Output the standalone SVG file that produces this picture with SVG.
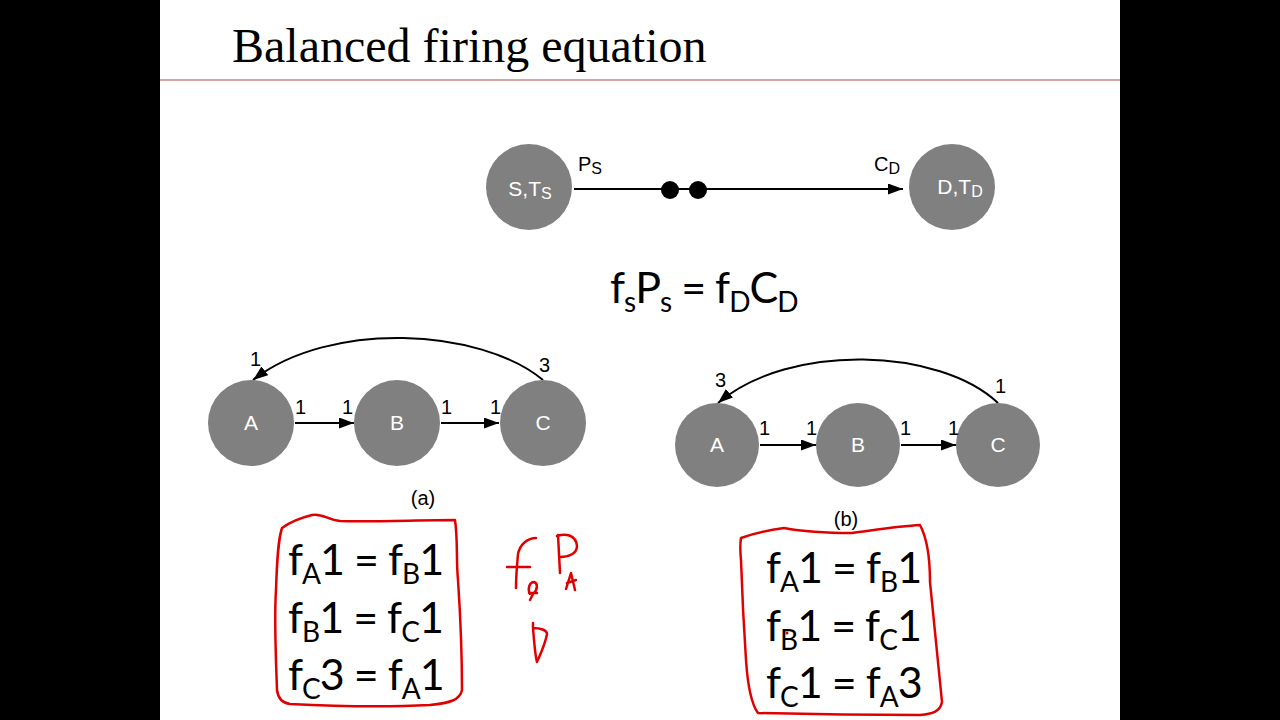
<svg xmlns="http://www.w3.org/2000/svg" width="1280" height="720" viewBox="0 0 1280 720">
<defs>
<style>
.node{fill:#808080;}
.nl{font-family:"Liberation Sans",Arial,sans-serif;font-size:21px;fill:#ffffff;text-anchor:middle;}
.lbl{font-family:"Liberation Sans",Arial,sans-serif;font-size:20px;fill:#000000;}
.cap{font-family:"Liberation Sans",Arial,sans-serif;font-size:20px;fill:#000000;text-anchor:middle;}
.eq{font-family:Lato,"Open Sans",sans-serif;font-size:43px;fill:#000000;letter-spacing:-1px;}
.edge{stroke:#000000;stroke-width:2;fill:none;marker-end:url(#ah);}
.ink{stroke:#e00000;stroke-width:2.5;fill:none;stroke-linecap:round;stroke-linejoin:round;}
</style>
<marker id="ah" viewBox="0 0 15 11" refX="15" refY="5.5" markerWidth="15" markerHeight="11" markerUnits="userSpaceOnUse" orient="auto">
<path d="M0,0 L15,5.5 L0,11 z" fill="#000000"/>
</marker>
</defs>
<rect x="0" y="0" width="1280" height="720" fill="#000000"/>
<rect x="160" y="0" width="960" height="720" fill="#ffffff"/>
<text x="232" y="62" font-family="'Liberation Serif','Times New Roman',serif" font-size="48" fill="#000000">Balanced firing equation</text>
<line x1="160" y1="80" x2="1120" y2="80" stroke="#c88a8a" stroke-width="1.5"/>

<g id="connectors">
<line class="edge" x1="574" y1="189" x2="903" y2="189"/>
<line class="edge" x1="295" y1="423" x2="354" y2="423"/>
<line class="edge" x1="441" y1="423" x2="499" y2="423"/>
<path class="edge" d="M543,380 C480,328 330,320 253,380"/>
<line class="edge" x1="760" y1="445" x2="816" y2="445"/>
<line class="edge" x1="901" y1="445" x2="956" y2="445"/>
<path class="edge" d="M998,403 C940,348 790,342 718,403"/>
<circle cx="670" cy="190" r="9" fill="#000000"/>
<circle cx="698" cy="190" r="9" fill="#000000"/>
</g>

<g id="node-S">
<circle class="node" cx="529" cy="187" r="43"/>
<text class="nl" x="530" y="196" font-size="22">S,T<tspan font-size="16" dy="3">S</tspan></text>
</g>
<g id="node-D">
<circle class="node" cx="952" cy="187" r="43"/>
<text class="nl" x="960" y="194" font-size="22">D,T<tspan font-size="16" dy="3">D</tspan></text>
</g>
<text class="lbl" x="578" y="171" font-size="21">P<tspan font-size="16" dy="3">S</tspan></text>
<text class="lbl" x="874" y="171" font-size="21">C<tspan font-size="16" dy="3">D</tspan></text>

<text class="eq" x="610" y="303">f<tspan font-size="28" dy="9">s</tspan><tspan dy="-9">P</tspan><tspan font-size="28" dy="9">s</tspan><tspan dy="-9"> = f</tspan><tspan font-size="28" dy="9">D</tspan><tspan dy="-9">C</tspan><tspan font-size="28" dy="9">D</tspan></text>

<g id="node-a-A"><circle class="node" cx="251" cy="423" r="43"/><text class="nl" x="251" y="430">A</text></g>
<g id="node-a-B"><circle class="node" cx="397" cy="423" r="43"/><text class="nl" x="397" y="430">B</text></g>
<g id="node-a-C"><circle class="node" cx="543" cy="423" r="43"/><text class="nl" x="543" y="430">C</text></g>
<text class="lbl" x="250" y="366">1</text>
<text class="lbl" x="539" y="372">3</text>
<text class="lbl" x="295" y="414">1</text>
<text class="lbl" x="342" y="414">1</text>
<text class="lbl" x="441" y="414">1</text>
<text class="lbl" x="490" y="414">1</text>
<text class="cap" x="423" y="505">(a)</text>

<g id="node-b-A"><circle class="node" cx="717" cy="445" r="42"/><text class="nl" x="717" y="452">A</text></g>
<g id="node-b-B"><circle class="node" cx="858" cy="445" r="42"/><text class="nl" x="858" y="452">B</text></g>
<g id="node-b-C"><circle class="node" cx="998" cy="445" r="42"/><text class="nl" x="998" y="452">C</text></g>
<text class="lbl" x="715" y="387">3</text>
<text class="lbl" x="995" y="393">1</text>
<text class="lbl" x="759" y="435">1</text>
<text class="lbl" x="806" y="435">1</text>
<text class="lbl" x="900" y="435">1</text>
<text class="lbl" x="948" y="435">1</text>
<text class="cap" x="846" y="526">(b)</text>

<g id="equations-a">
<text class="eq" x="288" y="575">f<tspan font-size="28" dy="9">A</tspan><tspan dy="-9">1 = f</tspan><tspan font-size="28" dy="9">B</tspan><tspan dy="-9">1</tspan></text>
<text class="eq" x="288" y="633">f<tspan font-size="28" dy="9">B</tspan><tspan dy="-9">1 = f</tspan><tspan font-size="28" dy="9">C</tspan><tspan dy="-9">1</tspan></text>
<text class="eq" x="288" y="690">f<tspan font-size="28" dy="9">C</tspan><tspan dy="-9">3 = f</tspan><tspan font-size="28" dy="9">A</tspan><tspan dy="-9">1</tspan></text>
</g>
<g id="equations-b">
<text class="eq" x="766" y="583">f<tspan font-size="28" dy="9">A</tspan><tspan dy="-9">1 = f</tspan><tspan font-size="28" dy="9">B</tspan><tspan dy="-9">1</tspan></text>
<text class="eq" x="766" y="641">f<tspan font-size="28" dy="9">B</tspan><tspan dy="-9">1 = f</tspan><tspan font-size="28" dy="9">C</tspan><tspan dy="-9">1</tspan></text>
<text class="eq" x="766" y="698">f<tspan font-size="28" dy="9">C</tspan><tspan dy="-9">1 = f</tspan><tspan font-size="28" dy="9">A</tspan><tspan dy="-9">3</tspan></text>
</g>

<g id="ink">
<path class="ink" d="M282,528 C290,522 300,518 312,515 C322,513 328,520 340,521 C370,522 420,520 455,520 C458,540 456,560 458,580 C460,610 462,650 462,690 C460,700 450,703 430,705 C390,707 330,706 290,704 C282,703 278,698 277,690 C276,660 274,620 276,590 C277,560 278,540 282,528"/>
<path class="ink" d="M741,538 C755,533 770,530 784,528 C800,531 830,533 852,533 C875,530 900,526 920,525 C928,540 930,560 930,582 C934,620 938,660 942,702 C940,712 932,714 920,715 C870,715 800,714 758,713 C752,705 748,690 746,660 C744,630 742,590 741,560 C740,550 740,544 741,538"/>
<path class="ink" d="M536,538 C528,538 520,544 518,554 C517,565 516,577 516,588"/>
<path class="ink" d="M507,567 L530,567"/>
<path class="ink" d="M530,594 C527,588 530,582 534,582 C538,583 538,590 533,594 M533,594 L530,600 M529,593 L537,593"/>
<path class="ink" d="M558,535 L560,573 M557,536 C566,533 576,535 577,546 C577,554 568,557 560,557"/>
<path class="ink" d="M566,589 L571,573 L575,590 M567,583 L576,580"/>
<path class="ink" d="M533,623 L533,628 C540,628 547,630 547,634 C545,645 540,655 537,662 C535,655 534,640 533,628"/>
<circle cx="787" cy="633" r="1.5" fill="#e00000"/>
</g>
</svg>
